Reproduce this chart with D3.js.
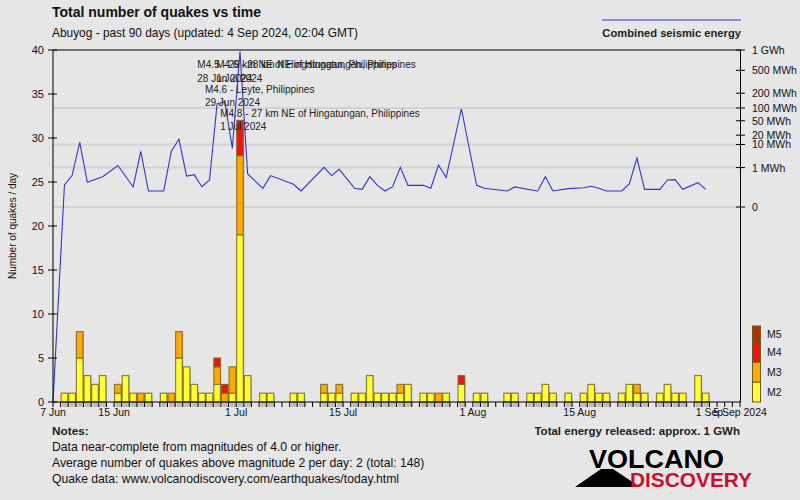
<!DOCTYPE html>
<html><head><meta charset="utf-8">
<script src="https://cdn.jsdelivr.net/npm/d3@7"></script>
<style>
body{margin:0;background:#e6e6e6;}
svg{display:block;font-family:"Liberation Sans",Arial,sans-serif;}
</style></head><body>
<svg id="c" width="800" height="500"></svg>
<script>
// ---------- DATA ----------
const startDate = "2024-06-07";
const endDate = "2024-09-05";
// daily counts (7 Jun .. 4 Sep 2024) by magnitude class
const m2Counts = [
 0,1,1,5,3,2,3,0,1,3,
 1,0,1,0,1,0,5,4,2,1,
 1,2,0,1,19,3,0,1,1,0,
 0,1,1,0,0,1,1,1,0,1,
 1,3,1,1,1,1,2,0,1,1,
 0,1,0,2,0,1,1,0,0,1,
 1,0,1,1,2,1,0,1,0,1,
 2,1,1,0,1,2,1,1,0,1,
 2,1,1,0,3,1,0,0,0,0];
const m3Counts = [
 0,0,0,3,0,0,0,0,1,0,
 0,1,0,0,0,1,3,0,0,0,
 0,2,1,3,9,0,0,0,0,0,
 0,0,0,0,0,1,0,1,0,0,
 0,0,0,0,0,1,0,0,0,0,
 1,0,0,0,0,0,0,0,0,0,
 0,0,0,0,0,0,0,0,0,0,
 0,0,0,0,0,0,1,0,0,0,
 0,0,0,0,0,0,0,0,0,0];
const m4Counts = [
 0,0,0,0,0,0,0,0,0,0,
 0,0,0,0,0,0,0,0,0,0,
 0,1,1,0,4,0,0,0,0,0,
 0,0,0,0,0,0,0,0,0,0,
 0,0,0,0,0,0,0,0,0,0,
 0,0,0,1,0,0,0,0,0,0,
 0,0,0,0,0,0,0,0,0,0,
 0,0,0,0,0,0,0,0,0,0,
 0,0,0,0,0,0,0,0,0,0];
const m5Counts = new Array(90).fill(0);
// daily combined seismic energy (MWh), null = no quakes that day
const energyMWh = [
 null,0.054,0.32,11.8,0.096,0.165,0.27,null,1.3,0.29,
 0.034,5.6,0.011,null,0.011,5.7,15,0.30,0.37,0.036,
 0.15,122,136,7.3,950,0.41,null,0.024,0.32,null,
 null,0.063,0.011,null,null,1.03,0.32,0.80,null,0.024,
 0.018,0.27,0.050,0.011,0.036,1.03,0.050,null,0.050,0.024,
 1.37,0.23,null,96,null,0.050,0.024,null,null,0.011,
 0.034,null,0.016,0.011,0.27,0.011,null,0.022,null,0.028,
 0.040,0.024,0.011,null,0.011,0.068,2.9,0.018,null,0.018,
 0.15,0.16,0.018,null,0.089,0.018,null,null,null,null];
const yTicks = [0,5,10,15,20,25,30,35,40];
const energyTicks = [0,1,10,20,50,100,200,500,1000];
const energyTickLabels = ["0","1 MWh","10 MWh","20 MWh","50 MWh","100 MWh","200 MWh","500 MWh","1 GWh"];
const energyGrid = [0,1,10,100];
const xTickDates = ["2024-06-07","2024-06-15","2024-07-01","2024-07-15","2024-08-01","2024-08-15","2024-09-01","2024-09-05"];
const xTickLabels = ["7 Jun","15 Jun","1 Jul","15 Jul","1 Aug","15 Aug","1 Sep","5 Sep 2024"];
const magLabels = ["M2","M3","M4","M5"];
const magColors = ["#ffff33","#ffaa00","#ee1414","#b0300c"];
const annotations = [
 {date:"2024-06-28", text:"M4.5 - 29 km NE of Hingatungan, Philippines", when:"28 Jun 2024", level:0, dx:0},
 {date:"2024-07-01", text:"M4.6 - 28 km NE of Hingatungan, Philippines", when:"1 Jul 2024", level:0, dx:-4},
 {date:"2024-06-29", text:"M4.6 - Leyte, Philippines", when:"29 Jun 2024", level:1, dx:0},
 {date:"2024-07-01", text:"M4.8 - 27 km NE of Hingatungan, Philippines", when:"1 Jul 2024", level:2, dx:0}
];
const notes = ["Data near-complete from magnitudes of 4.0 or higher.",
 "Average number of quakes above magnitude 2 per day: 2 (total: 148)",
 "Quake data: www.volcanodiscovery.com/earthquakes/today.html"];

// ---------- CHART ----------
const svg = d3.select("#c");
svg.append("rect").attr("width",800).attr("height",500).attr("fill","#e6e6e6");
const t0 = new Date(startDate+"T00:00:00Z"), t1 = new Date(endDate+"T00:00:00Z");
const x = d3.scaleUtc().domain([t0,t1]).range([53,740]);
const y = d3.scaleLinear().domain([0,40]).range([402,50]);
const yE = d3.scalePow().exponent(0.2).domain([0,1000]).range([207,50]);
const days = d3.utcDay.range(t0,t1);
const dayW = x(days[1]) - x(days[0]);

// energy grid lines
svg.append("g").selectAll("line").data(energyGrid).join("line")
  .attr("x1",53).attr("x2",740).attr("y1",d=>yE(d)).attr("y2",d=>yE(d))
  .attr("stroke","#d2d2d2").attr("stroke-width",2);

// title
svg.append("text").attr("x",52).attr("y",17).attr("font-weight","bold").attr("font-size",14).attr("fill","#111")
  .text("Total number of quakes vs time");
svg.append("text").attr("x",52).attr("y",37).attr("font-size",11.9).attr("fill","#111")
  .text("Abuyog - past 90 days (updated: 4 Sep 2024, 02:04 GMT)");
svg.append("line").attr("x1",602).attr("x2",741).attr("y1",20).attr("y2",20).attr("stroke","#3333cc").attr("stroke-width",1);
svg.append("text").attr("x",741).attr("y",37).attr("text-anchor","end").attr("font-weight","bold").attr("font-size",11.2).attr("fill","#222")
  .text("Combined seismic energy");

// bars
const stacks = days.map((d,i)=>{
  const vals=[m2Counts[i],m3Counts[i],m4Counts[i],m5Counts[i]];
  let acc=0; const segs=[];
  vals.forEach((v,k)=>{ if(v>0){ segs.push({k,y0:acc,y1:acc+v}); } acc+=v; });
  return {date:d,total:acc,segs};
}).filter(s=>s.total>0);

const barG = svg.append("g");
barG.selectAll("rect.sh").data(stacks).join("rect").attr("class","sh")
  .attr("x",d=>x(d.date)+1.5).attr("width",dayW-1)
  .attr("y",d=>y(d.total)+2).attr("height",d=>y(0)-y(d.total)+3)
  .attr("fill","#000").attr("opacity",0.18);
stacks.forEach(s=>{
  barG.selectAll(null).data(s.segs).join("rect")
    .attr("x",x(s.date)+0.5).attr("width",dayW-1)
    .attr("y",d=>y(d.y1)).attr("height",d=>y(d.y0)-y(d.y1))
    .attr("fill",d=>magColors[d.k]).attr("stroke","#7c6a28").attr("stroke-opacity",0.85).attr("stroke-width",1.2);
});

// energy line
const pts = [{t:t0, py:y(0)}].concat(
  days.map((d,i)=>({t:d3.utcHour.offset(d,12), v:energyMWh[i]})).filter(p=>p.v!==null)
   .map(p=>({t:p.t, py:yE(p.v)})));
svg.append("path").datum(pts).attr("fill","none").attr("stroke","#3333cc").attr("stroke-width",1.1)
  .attr("d",d3.line().x(p=>x(p.t)).y(p=>p.py));

// axes
const ax = svg.append("g").attr("stroke","#000").attr("stroke-width",1);
ax.append("line").attr("x1",53).attr("x2",53).attr("y1",50).attr("y2",402);
ax.append("line").attr("x1",740.5).attr("x2",740.5).attr("y1",50).attr("y2",402);
ax.append("line").attr("x1",53).attr("x2",740.5).attr("y1",402).attr("y2",402);
ax.append("line").attr("x1",53).attr("x2",740.5).attr("y1",50).attr("y2",50);
ax.selectAll("line.yt").data(yTicks).join("line").attr("class","yt")
  .attr("x1",48).attr("x2",57).attr("y1",d=>y(d)).attr("y2",d=>y(d));
ax.selectAll("line.et").data(energyTicks).join("line").attr("class","et")
  .attr("x1",736).attr("x2",745).attr("y1",d=>yE(d)).attr("y2",d=>yE(d));
ax.selectAll("line.dt").data(days.concat([t1])).join("line").attr("class","dt")
  .attr("x1",d=>x(d)).attr("x2",d=>x(d)).attr("y1",402).attr("y2",407);

svg.append("g").selectAll("text").data(yTicks).join("text")
  .attr("x",44).attr("y",d=>y(d)+4).attr("text-anchor","end").attr("font-size",11).attr("fill","#111").text(d=>d);
svg.append("g").selectAll("text").data(energyTicks).join("text")
  .attr("x",752).attr("y",d=>yE(d)+4).attr("font-size",10.5).attr("fill","#111").text((d,i)=>energyTickLabels[i]);
svg.append("g").selectAll("text").data(xTickDates).join("text")
  .attr("x",d=>x(new Date(d+"T00:00:00Z"))).attr("y",416).attr("text-anchor","middle").attr("font-size",10.5).attr("fill","#111")
  .text((d,i)=>xTickLabels[i]);
svg.append("text").attr("transform","translate(16,226) rotate(-90)").attr("text-anchor","middle")
  .attr("font-size",10).attr("fill","#111").text("Number of quakes / day");

// annotations
const ann = svg.append("g").attr("font-size",10).attr("fill","#222");
annotations.forEach(a=>{
  const ax0 = x(new Date(a.date+"T00:00:00Z")) - 16 + a.dx;
  const by = 68.3 + a.level*24.2;
  ann.append("text").attr("x",ax0).attr("y",by).text(a.text);
  ann.append("text").attr("x",ax0).attr("y",by+13.4).text(a.when);
});

// legend
const lg = svg.append("g");
const legH = [20,20,20,16];
let ly = 402;
magLabels.forEach((m,i)=>{
  ly -= legH[i];
  lg.append("rect").attr("x",752.5).attr("y",ly).attr("width",8).attr("height",legH[i])
    .attr("fill",magColors[i]).attr("stroke","#6b5a22").attr("stroke-width",1);
  lg.append("text").attr("x",767).attr("y",ly+legH[i]/2+4).attr("font-size",10.5).attr("fill","#111").text(m);
});

// notes
svg.append("text").attr("x",52).attr("y",435).attr("font-weight","bold").attr("font-size",11.8).attr("fill","#222").text("Notes:");
svg.append("g").selectAll("text").data(notes).join("text")
  .attr("x",52).attr("y",(d,i)=>451+i*16).attr("font-size",12.2).attr("fill","#111").text(d=>d);
svg.append("text").attr("x",740).attr("y",435).attr("text-anchor","end").attr("font-weight","bold").attr("font-size",11.5).attr("fill","#222")
  .text("Total energy released: approx. 1 GWh");

// logo
svg.append("path").attr("d","M575,487 L601,469 L613,469 L640,487 Z").attr("fill","#000");
svg.append("text").attr("x",589).attr("y",468).attr("font-weight","bold").attr("font-size",25)
  .attr("textLength",135).attr("lengthAdjust","spacingAndGlyphs").attr("fill","#000").text("VOLCANO");
svg.append("text").attr("x",630).attr("y",487).attr("font-weight","bold").attr("font-size",21)
  .attr("textLength",122).attr("lengthAdjust","spacingAndGlyphs").attr("fill","#c8102e").text("DISCOVERY");
</script>
</body></html>
